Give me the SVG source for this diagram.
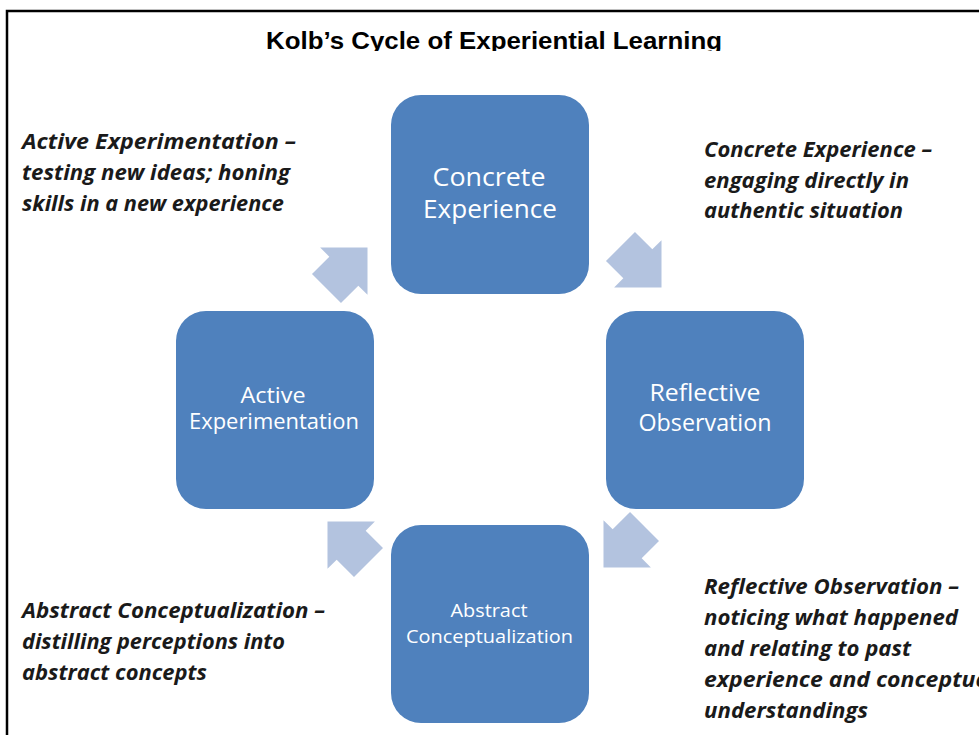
<svg xmlns="http://www.w3.org/2000/svg" width="979" height="735" viewBox="0 0 979 735">
<style>
.box{fill:#4F81BD}
.arrow{fill:#B3C3DF}
.bt{fill:#fff;font-family:"Open Sans","Liberation Sans",Arial,sans-serif;text-anchor:middle}
.lbl{fill:#1a1a1a;font-family:"Open Sans","Liberation Sans",Arial,sans-serif;font-weight:bold;font-style:italic;font-size:20.5px}
.title{fill:#000;font-family:"Liberation Sans",Arial,sans-serif;font-weight:bold;font-size:23px;text-anchor:middle}
</style>
<defs>
<path id="arr" d="M-29,-20.5 L-4.5,-20.5 L-4.5,-33.5 L29,0 L-4.5,33.5 L-4.5,20.5 L-29,20.5 Z"/>
<clipPath id="tclip"><rect x="0" y="0" width="979" height="51"/></clipPath>
</defs>
<rect width="979" height="735" fill="#fff"/>
<path d="M7,735 L7,11 L979,11" fill="none" stroke="#000" stroke-width="2.5"/>
<text class="title" x="494" y="49" clip-path="url(#tclip)" textLength="456" lengthAdjust="spacingAndGlyphs">Kolb’s Cycle of Experiential Learning</text>

<g id="connectors">
<use href="#arr" class="arrow" transform="translate(347,268) rotate(-45)"/>
<use href="#arr" class="arrow" transform="translate(641,267) rotate(45)"/>
<use href="#arr" class="arrow" transform="translate(624,547) rotate(135)"/>
<use href="#arr" class="arrow" transform="translate(348,542) rotate(-135)"/>
</g>

<g id="concrete">
<rect class="box" x="391" y="95" width="198" height="199" rx="30"/>
<text class="bt" x="489" y="186" font-size="25" textLength="113" lengthAdjust="spacingAndGlyphs">Concrete</text>
<text class="bt" x="490" y="218" font-size="25" textLength="134" lengthAdjust="spacingAndGlyphs">Experience</text>
</g>
<g id="reflective">
<rect class="box" x="606" y="311" width="198" height="198" rx="30"/>
<text class="bt" x="705" y="401" font-size="23" textLength="111" lengthAdjust="spacingAndGlyphs">Reflective</text>
<text class="bt" x="705" y="431" font-size="23" textLength="133" lengthAdjust="spacingAndGlyphs">Observation</text>
</g>
<g id="active">
<rect class="box" x="176" y="311" width="198" height="198" rx="30"/>
<text class="bt" x="273" y="403" font-size="21" textLength="65" lengthAdjust="spacingAndGlyphs">Active</text>
<text class="bt" x="274" y="429" font-size="21" textLength="170" lengthAdjust="spacingAndGlyphs">Experimentation</text>
</g>
<g id="abstract">
<rect class="box" x="391" y="525" width="198" height="198" rx="30"/>
<text class="bt" x="489" y="617" font-size="18.5" textLength="77" lengthAdjust="spacingAndGlyphs">Abstract</text>
<text class="bt" x="489.5" y="643" font-size="18.5" textLength="167" lengthAdjust="spacingAndGlyphs">Conceptualization</text>
</g>

<g id="label-active">
<text class="lbl" x="22" y="149" textLength="274" lengthAdjust="spacingAndGlyphs">Active Experimentation –</text>
<text class="lbl" x="22" y="180" textLength="268" lengthAdjust="spacingAndGlyphs">testing new ideas; honing</text>
<text class="lbl" x="22" y="211" textLength="262" lengthAdjust="spacingAndGlyphs">skills in a new experience</text>
</g>
<g id="label-concrete">
<text class="lbl" x="704" y="157" textLength="228" lengthAdjust="spacingAndGlyphs">Concrete Experience –</text>
<text class="lbl" x="704" y="188" textLength="205" lengthAdjust="spacingAndGlyphs">engaging directly in</text>
<text class="lbl" x="704" y="218" textLength="199" lengthAdjust="spacingAndGlyphs">authentic situation</text>
</g>
<g id="label-abstract">
<text class="lbl" x="22" y="618" textLength="303" lengthAdjust="spacingAndGlyphs">Abstract Conceptualization –</text>
<text class="lbl" x="22" y="649" textLength="263" lengthAdjust="spacingAndGlyphs">distilling perceptions into</text>
<text class="lbl" x="22" y="680" textLength="185" lengthAdjust="spacingAndGlyphs">abstract concepts</text>
</g>
<g id="label-reflective">
<text class="lbl" x="704" y="594" textLength="255" lengthAdjust="spacingAndGlyphs">Reflective Observation –</text>
<text class="lbl" x="704" y="625" textLength="254" lengthAdjust="spacingAndGlyphs">noticing what happened</text>
<text class="lbl" x="704" y="656" textLength="207" lengthAdjust="spacingAndGlyphs">and relating to past</text>
<text class="lbl" x="704" y="687" textLength="292" lengthAdjust="spacingAndGlyphs">experience and conceptual</text>
<text class="lbl" x="704" y="718" textLength="164" lengthAdjust="spacingAndGlyphs">understandings</text>
</g>
</svg>
